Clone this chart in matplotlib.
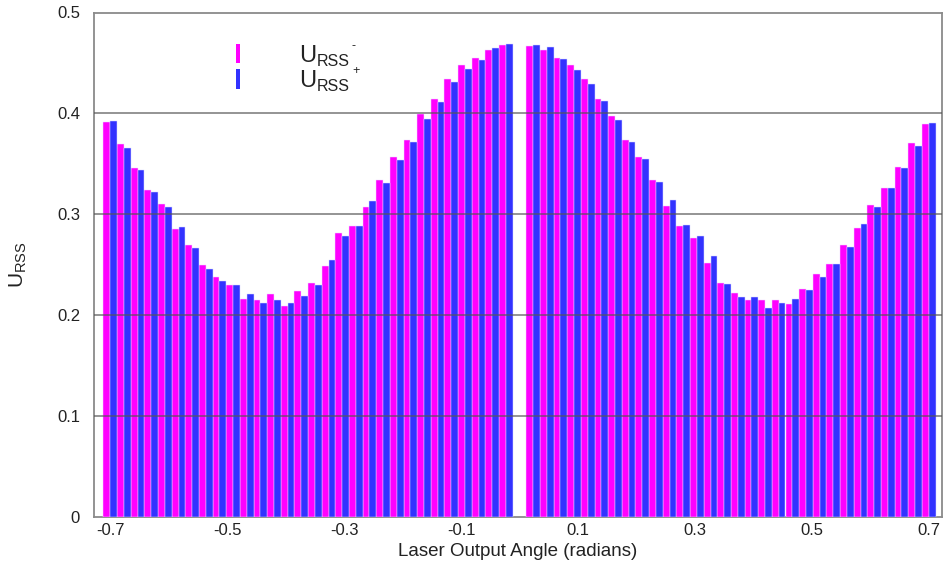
import matplotlib
matplotlib.use("Agg")
import matplotlib.pyplot as plt
from matplotlib.patches import Rectangle

plt.rcParams['font.family'] = ['Liberation Sans', 'DejaVu Sans']
plt.rcParams['mathtext.fontset'] = 'custom'
plt.rcParams['mathtext.rm'] = 'Liberation Sans'
plt.rcParams['mathtext.it'] = 'Liberation Sans:italic'
plt.rcParams['mathtext.bf'] = 'Liberation Sans:bold'
plt.rcParams['axes.unicode_minus'] = False

# Angle categories (radians), negative side; positive side mirrors it
angles_left = [-0.7000, -0.6767, -0.6533, -0.6300, -0.6067, -0.5833, -0.5600, -0.5367,
               -0.5133, -0.4900, -0.4667, -0.4433, -0.4200, -0.3967, -0.3733, -0.3500,
               -0.3267, -0.3033, -0.2800, -0.2567, -0.2333, -0.2100, -0.1867, -0.1633,
               -0.1400, -0.1167, -0.0933, -0.0700, -0.0467, -0.0233]
angles_right = [0.0233, 0.0467, 0.0700, 0.0933, 0.1167, 0.1400, 0.1633, 0.1867,
                0.2100, 0.2333, 0.2567, 0.2800, 0.3033, 0.3267, 0.3500, 0.3733,
                0.3967, 0.4200, 0.4433, 0.4667, 0.4900, 0.5133, 0.5367, 0.5600,
                0.5833, 0.6067, 0.6300, 0.6533, 0.6767, 0.7000]

u_minus_left = [0.391, 0.370, 0.346, 0.324, 0.310, 0.285, 0.270, 0.250, 0.238, 0.230,
                0.216, 0.215, 0.221, 0.209, 0.224, 0.232, 0.249, 0.281, 0.288, 0.307,
                0.334, 0.357, 0.374, 0.399, 0.414, 0.434, 0.448, 0.455, 0.463, 0.468]
u_plus_left = [0.392, 0.366, 0.344, 0.322, 0.307, 0.287, 0.267, 0.246, 0.234, 0.230,
               0.221, 0.212, 0.215, 0.212, 0.219, 0.230, 0.255, 0.278, 0.288, 0.313,
               0.331, 0.354, 0.372, 0.394, 0.411, 0.431, 0.444, 0.453, 0.465, 0.469]
u_minus_right = [0.467, 0.463, 0.455, 0.448, 0.434, 0.414, 0.397, 0.374, 0.357, 0.334,
                 0.308, 0.288, 0.277, 0.252, 0.232, 0.222, 0.215, 0.215, 0.215, 0.211,
                 0.226, 0.241, 0.251, 0.270, 0.286, 0.309, 0.326, 0.347, 0.371, 0.389]
u_plus_right = [0.468, 0.466, 0.454, 0.443, 0.429, 0.412, 0.393, 0.372, 0.355, 0.332,
                0.314, 0.289, 0.278, 0.259, 0.231, 0.218, 0.218, 0.207, 0.212, 0.216,
                0.225, 0.238, 0.251, 0.268, 0.290, 0.307, 0.326, 0.346, 0.368, 0.390]

x_ticks = [-0.7, -0.5, -0.3, -0.1, 0.1, 0.3, 0.5, 0.7]
x_tick_labels = ['-0.7', '-0.5', '-0.3', '-0.1', '0.1', '0.3', '0.5', '0.7']
y_ticks = [0, 0.1, 0.2, 0.3, 0.4, 0.5]
y_tick_labels = ['0', '0.1', '0.2', '0.3', '0.4', '0.5']

MAGENTA = '#FF00FF'
BLUE = '#3232FF'
GRID = '#8a8a8a'
TEXT = '#222222'

angles = angles_left + angles_right
u_minus = u_minus_left + u_minus_right
u_plus = u_plus_left + u_plus_right

fig = plt.figure(figsize=(9.43, 5.64), dpi=100)
ax = fig.add_axes([94 / 943, 47 / 564, 848 / 943, 504.5 / 564])

step = 0.7 / 30
w = step / 2
ax.bar([a - w / 2 for a in angles], u_minus, width=w, color=MAGENTA,
       edgecolor='#f0d8ff', linewidth=0.35, zorder=3)
ax.bar([a + w / 2 for a in angles], u_plus, width=w, color=BLUE,
       edgecolor='#d8d8ff', linewidth=0.35, zorder=3)

ax.set_xlim(-0.7279, 0.7227)
ax.set_ylim(0, 0.5)
ax.set_xticks(x_ticks)
ax.set_xticklabels(x_tick_labels)
ax.set_yticks(y_ticks)
ax.set_yticklabels(y_tick_labels)
ax.tick_params(axis='both', length=0, labelsize=12, colors=TEXT)
ax.tick_params(axis='x', pad=4)
ax.tick_params(axis='y', pad=10)

for yv in y_ticks[1:-1]:
    ax.axhline(yv, color='#555555', linewidth=1.1, zorder=4, alpha=0.8)

for s in ax.spines.values():
    s.set_color(GRID)
    s.set_linewidth(1.3)

ax.set_xlabel('Laser Output Angle (radians)', fontsize=13.5, color=TEXT, labelpad=4)
ax.set_ylabel(r'$\mathrm{U}_{\mathrm{RSS}}$', fontsize=15, color=TEXT, labelpad=20)

# Legend (manual, figure pixel coordinates)
H = 564.0
def fx(px):
    return px / 943.0
def fy(py):
    return 1 - py / H

fig.patches.append(Rectangle((fx(236), fy(63)), 4 / 943, 19 / H, transform=fig.transFigure,
                             facecolor=MAGENTA, edgecolor='none'))
fig.patches.append(Rectangle((fx(236), fy(89)), 4 / 943, 20 / H, transform=fig.transFigure,
                             facecolor=BLUE, edgecolor='none'))
for base, sup in ((62, '-'), (87, '+')):
    fig.text(fx(299), fy(base), 'U', fontsize=17, color=TEXT, va='baseline', ha='left')
    fig.text(fx(317), fy(base + 4), 'RSS', fontsize=11.5, color=TEXT, va='baseline', ha='left')
    fig.text(fx(352), fy(base - 13), sup, fontsize=9, color=TEXT, va='baseline', ha='left')

fig.savefig('out.png', dpi=100)
